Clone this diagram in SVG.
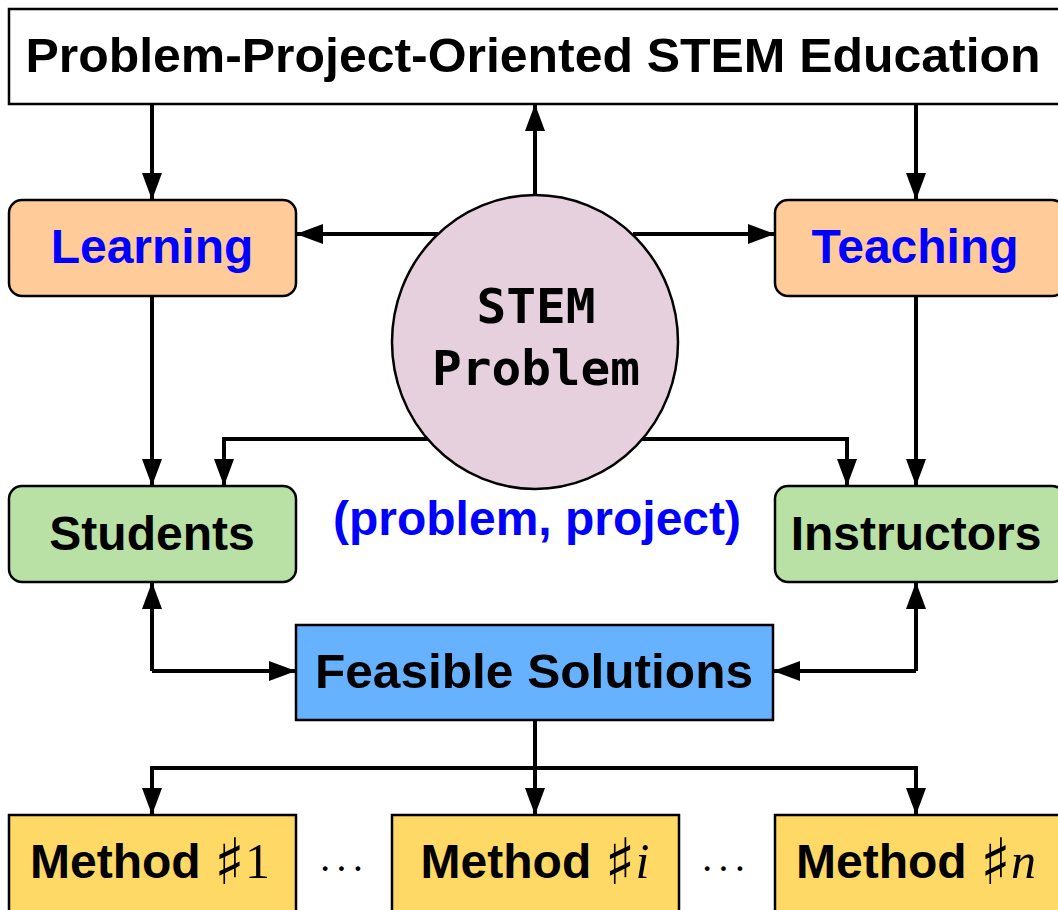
<svg xmlns="http://www.w3.org/2000/svg" width="1058" height="910" viewBox="0 0 1058 910">
<defs>
<marker id="ah" markerUnits="userSpaceOnUse" markerWidth="27" markerHeight="20" refX="27" refY="10" orient="auto">
<path d="M0,0 L27,10 L0,20 z" fill="#000"/>
</marker>
<style>
.box{stroke:#000;stroke-width:2.5}
.lbl{font-family:"Liberation Sans",Arial,sans-serif;font-weight:bold;font-size:48px;text-anchor:middle;fill:#000}
.blue{fill:#0000FF}
.mono{font-family:"DejaVu Sans Mono","Liberation Mono",monospace;font-weight:bold;font-size:48px;text-anchor:middle;fill:#000}
.c{fill:none;stroke:#000;stroke-width:4}
.ar{marker-end:url(#ah)}
.sharp{font-family:"DejaVu Sans",sans-serif;font-weight:normal;font-size:64px}
.num{font-family:"Liberation Serif",serif;font-weight:normal;font-size:50px}
.it{font-family:"Liberation Serif",serif;font-style:italic;font-weight:normal;font-size:50px}
.dots{font-family:"Liberation Serif",serif;font-size:40px;text-anchor:middle;letter-spacing:3px}
</style>
</defs>
<rect width="1058" height="910" fill="#fff"/>
<g id="connectors">
<path class="c ar" d="M152,104 V200"/>
<path class="c ar" d="M916,104 V200"/>
<path class="c ar" d="M535,195 V104"/>
<path class="c ar" d="M438,234 H296"/>
<path class="c ar" d="M633,234 H775"/>
<path class="c ar" d="M152,296 V486"/>
<path class="c ar" d="M916,296 V486"/>
<path class="c ar" d="M432,439 H224 V486"/>
<path class="c ar" d="M639,439 H847 V486"/>
<path class="c ar" d="M152,671 V582"/>
<path class="c ar" d="M152,671 H296"/>
<path class="c ar" d="M916,671 V582"/>
<path class="c ar" d="M916,671 H773"/>
<path class="c ar" d="M535,720 V815"/>
<path class="c" d="M152,768 H916"/>
<path class="c ar" d="M152,766 V815"/>
<path class="c ar" d="M916,766 V815"/>
</g>
<g id="top">
<rect class="box" x="9" y="9" width="1052" height="95" fill="#fff"/>
<text class="lbl" x="533" y="72" font-size="47" textLength="1015" lengthAdjust="spacingAndGlyphs">Problem-Project-Oriented STEM Education</text>
</g>
<g id="learning">
<rect class="box" x="9" y="200" width="287" height="96" rx="13" fill="#FFCC99"/>
<text class="lbl blue" x="152" y="263">Learning</text>
</g>
<g id="teaching">
<rect class="box" x="775" y="200" width="290" height="96" rx="13" fill="#FFCC99"/>
<text class="lbl blue" x="915" y="263">Teaching</text>
</g>
<g id="stem">
<ellipse class="box" cx="535" cy="342" rx="143" ry="147" fill="#E6D0DE"/>
<text class="mono" x="536" y="323" textLength="119" lengthAdjust="spacingAndGlyphs">STEM</text>
<text class="mono" x="536" y="385" textLength="208" lengthAdjust="spacingAndGlyphs">Problem</text>
</g>
<g id="pp">
<text class="lbl blue" x="537" y="535" font-size="46">(problem, project)</text>
</g>
<g id="students">
<rect class="box" x="9" y="486" width="287" height="96" rx="13" fill="#B9E0A5"/>
<text class="lbl" x="152" y="550">Students</text>
</g>
<g id="instructors">
<rect class="box" x="775" y="486" width="290" height="96" rx="13" fill="#B9E0A5"/>
<text class="lbl" x="916" y="550">Instructors</text>
</g>
<g id="feasible">
<rect class="box" x="296" y="625" width="477" height="95" fill="#66B2FF"/>
<text class="lbl" x="534" y="688" textLength="438" lengthAdjust="spacingAndGlyphs">Feasible Solutions</text>
</g>
<g id="method1">
<rect class="box" x="9" y="815" width="287" height="100" fill="#FFD966"/>
<text class="lbl" x="150" y="878">Method <tspan class="sharp" dy="6">♯</tspan><tspan class="num" dy="-6">1</tspan></text>
</g>
<g id="methodi">
<rect class="box" x="392" y="815" width="287" height="100" fill="#FFD966"/>
<text class="lbl" x="535" y="878">Method <tspan class="sharp" dy="6">♯</tspan><tspan class="it" dy="-6">i</tspan></text>
</g>
<g id="methodn">
<rect class="box" x="775" y="815" width="290" height="100" fill="#FFD966"/>
<text class="lbl" x="916" y="878">Method <tspan class="sharp" dy="6">♯</tspan><tspan class="it" dy="-6">n</tspan></text>
</g>
<g id="dots">
<text class="dots" x="343" y="882">···</text>
<text class="dots" x="725" y="882">···</text>
</g>
</svg>
